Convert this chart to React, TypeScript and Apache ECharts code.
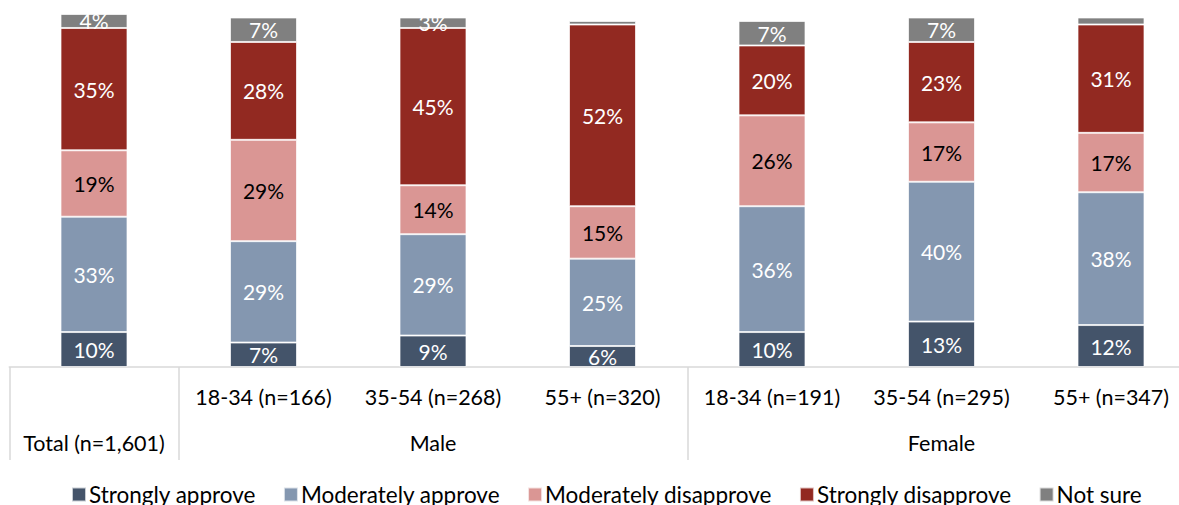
import React, { useEffect, useRef } from "react";
import * as echarts from "echarts";

const categories = ["Total", "M18-34", "M35-54", "M55+", "F18-34", "F35-54", "F55+"];
const ageLabels = ["", "18-34 (n=166)", "35-54 (n=268)", "55+ (n=320)", "18-34 (n=191)", "35-54 (n=295)", "55+ (n=347)"];
const groupLabels = ["Total (n=1,601)", "", "Male", "", "", "Female", ""];

const seriesNames = ["Strongly approve", "Moderately approve", "Moderately disapprove", "Strongly disapprove", "Not sure"];
const stronglyApprove = [10, 7, 9, 6, 10, 13, 12];
const moderatelyApprove = [33, 29, 29, 25, 36, 40, 38];
const moderatelyDisapprove = [19, 29, 14, 15, 26, 17, 17];
const stronglyDisapprove = [35, 28, 45, 52, 20, 23, 31];
const notSure = [4, 7, 3, 1, 7, 7, 2];

const seriesData = [stronglyApprove, moderatelyApprove, moderatelyDisapprove, stronglyDisapprove, notSure];
const colors = ["#44546A", "#8497B0", "#DA9694", "#922921", "#808080"];
const labelColors = ["#FFFFFF", "#FFFFFF", "#000000", "#FFFFFF", "#FFFFFF"];

const FONT = "Lato, 'Open Sans', sans-serif";

export default function App() {
  const ref = useRef<HTMLDivElement>(null);
  useEffect(() => {
    if (!ref.current) return;
    const chart = echarts.init(ref.current, undefined, { renderer: "svg" });
    chart.setOption({
      animation: false,
      textStyle: { fontFamily: FONT },
      grid: { left: 9.25, right: 0.25, top: 14, bottom: 138, containLabel: false },
      legend: {
        data: seriesNames,
        left: 66,
        top: 478,
        itemWidth: 14,
        itemHeight: 14,
        itemGap: 27,
        icon: "rect",
        textStyle: { fontSize: 22.5, color: "#000", fontFamily: FONT, padding: [0, 0, 0, -2] },
      },
      xAxis: [
        {
          type: "category",
          data: categories,
          axisLine: { show: true, lineStyle: { color: "#D9D9D9", width: 1.5 } },
          axisTick: {
            show: true,
            length: 93,
            interval: (i: number) => i === 0 || i === 1 || i === 4,
            lineStyle: { color: "#D9D9D9", width: 1.5 },
          },
          axisLabel: {
            interval: 0,
            margin: 19,
            fontSize: 21.5,
            color: "#000",
            fontFamily: FONT,
            formatter: (_v: string, i: number) => ageLabels[i],
          },
        },
        {
          type: "category",
          data: categories,
          position: "bottom",
          offset: 46,
          axisLine: { show: false },
          axisTick: { show: false },
          axisLabel: {
            interval: 0,
            margin: 19,
            fontSize: 21.5,
            color: "#000",
            fontFamily: FONT,
            formatter: (_v: string, i: number) => groupLabels[i],
          },
        },
      ],
      yAxis: {
        type: "value",
        min: 0,
        max: 101,
        show: false,
        splitLine: { show: false },
      },
      series: seriesNames.map((name, s) => ({
        name,
        type: "bar",
        stack: "total",
        barWidth: 67,
        data: seriesData[s],
        itemStyle: { color: colors[s], borderColor: "rgba(255,255,255,0.7)", borderWidth: 1 },
        label: {
          show: true,
          position: "inside",
          fontSize: 21,
          fontFamily: FONT,
          color: labelColors[s],
          formatter: (p: any) => (p.value >= 3 ? p.value + "%" : ""),
        },
      })),
    });
    return () => chart.dispose();
  }, []);
  return (
    <div style={{ position: "absolute", left: 0, top: 0, width: 1179, height: 505, overflow: "hidden" }}>
      <div ref={ref} style={{ width: 1196, height: 505 }} />
    </div>
  );
}
